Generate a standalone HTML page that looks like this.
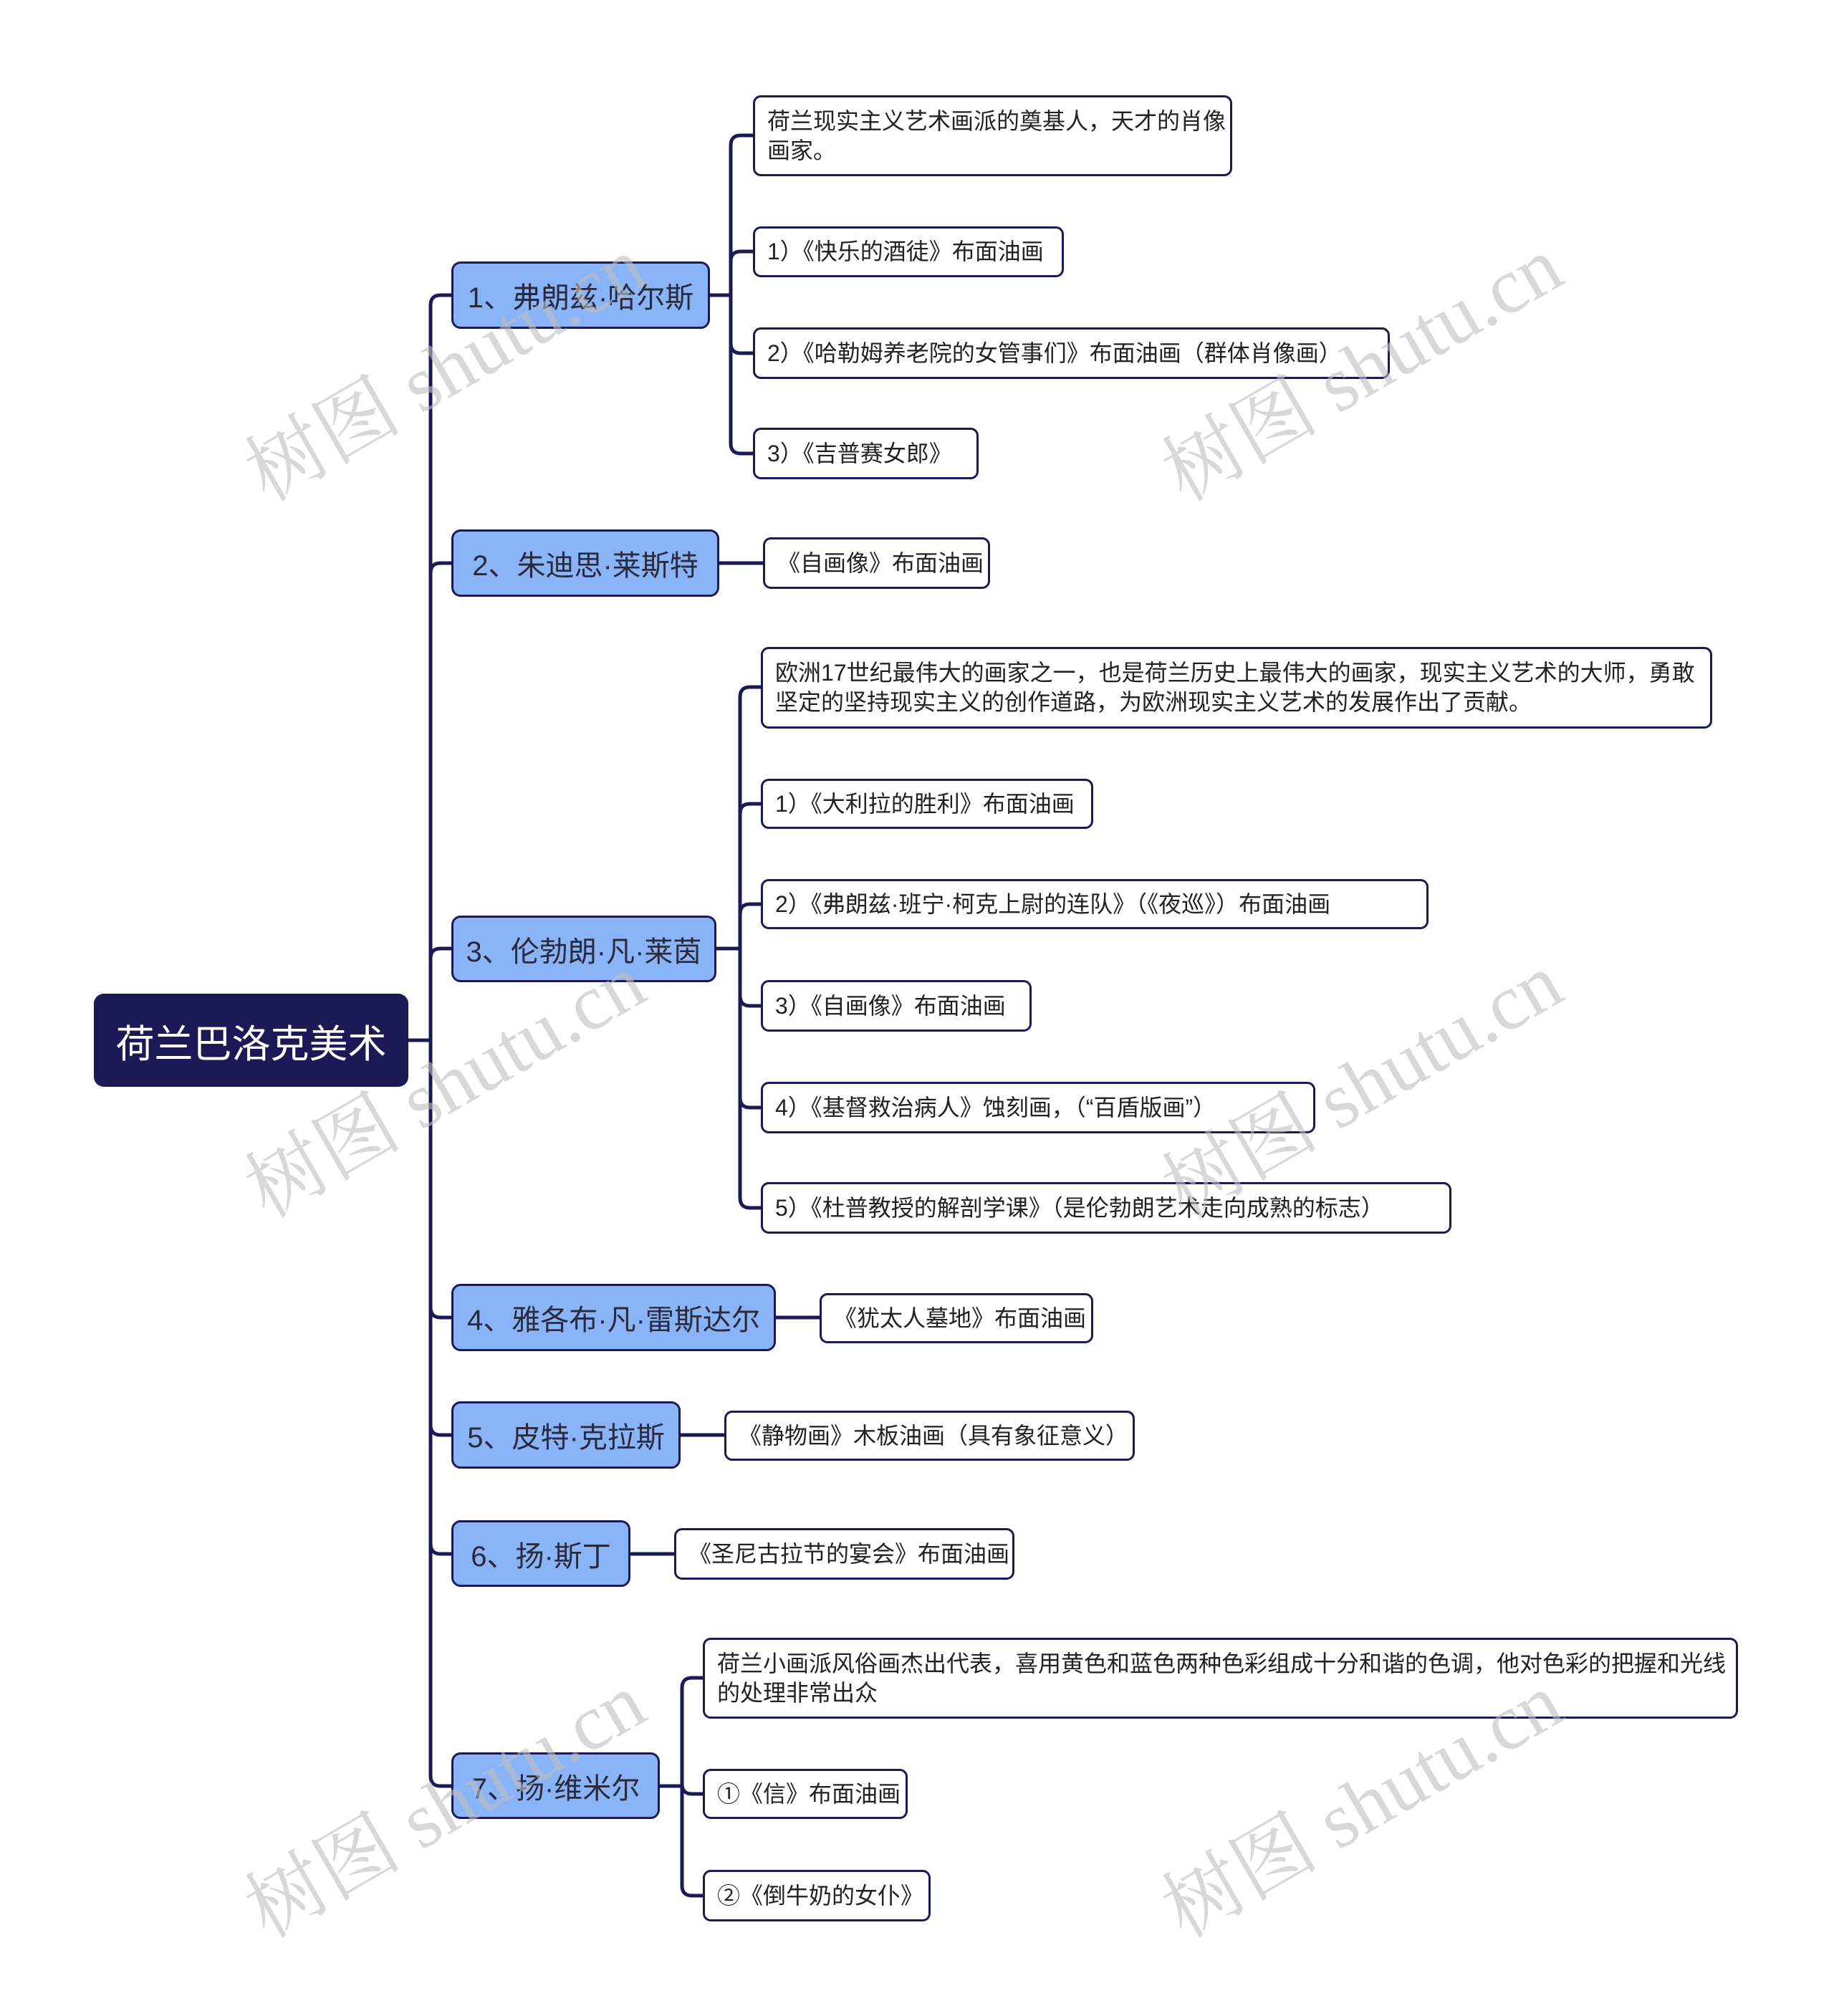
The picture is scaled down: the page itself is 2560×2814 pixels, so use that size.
<!DOCTYPE html>
<html><head><meta charset="utf-8"><style>
body{margin:0;width:2560px;height:2814px;background:#fff;position:relative;overflow:hidden;font-family:"Liberation Sans","Noto Sans CJK SC",sans-serif;}
#w{position:absolute;left:-4px;top:-4px;width:2560px;height:2814px;}
.n{position:absolute;box-sizing:border-box;display:flex;align-items:center;}
.root{background:#1c1a56;color:#fff;border-radius:14px;font-size:54px;justify-content:center;}
.l1{background:#8ab4f8;border:3px solid #1c1a56;border-radius:13px;color:#2a2a3a;font-size:40px;justify-content:center;}
.lf{background:#fff;border:3px solid #1c1a56;border-radius:11px;color:#222;font-size:32px;padding-left:17px;line-height:41px;white-space:nowrap;}
.wm{position:absolute;font-family:"Liberation Serif","Noto Serif CJK SC",serif;font-size:110px;color:rgba(190,190,190,0.6);transform:rotate(-30deg);white-space:nowrap;}
</style></head><body><div id="w">
<svg width="2560" height="2814" style="position:absolute;left:0;top:0" fill="none" stroke="#1c1a56" stroke-width="5">
<path d="M574 1456 H605 V430 Q605 416 619 416 H634"/>
<path d="M574 1456 H605 V804 Q605 790 619 790 H634"/>
<path d="M574 1456 H605 V1342 Q605 1328 619 1328 H634"/>
<path d="M574 1456 H605 V1829 Q605 1843 619 1843 H634"/>
<path d="M574 1456 H605 V1993 Q605 2007 619 2007 H634"/>
<path d="M574 1456 H605 V2159 Q605 2173 619 2173 H634"/>
<path d="M574 1456 H605 V2483 Q605 2497 619 2497 H634"/>
<path d="M995 416 H1024 V207 Q1024 193 1038 193 H1055"/>
<path d="M995 416 H1024 V369 Q1024 355 1038 355 H1055"/>
<path d="M995 416 H1024 V483 Q1024 497 1038 497 H1055"/>
<path d="M995 416 H1024 V623 Q1024 637 1038 637 H1055"/>
<path d="M1008 790 H1069"/>
<path d="M1004 1328 H1037 V977 Q1037 963 1051 963 H1066"/>
<path d="M1004 1328 H1037 V1140 Q1037 1126 1051 1126 H1066"/>
<path d="M1004 1328 H1037 V1280 Q1037 1266 1051 1266 H1066"/>
<path d="M1004 1328 H1037 V1394 Q1037 1408 1051 1408 H1066"/>
<path d="M1004 1328 H1037 V1536 Q1037 1550 1051 1550 H1066"/>
<path d="M1004 1328 H1037 V1676 Q1037 1690 1051 1690 H1066"/>
<path d="M1087 1843 H1148"/>
<path d="M954 2007 H1015"/>
<path d="M884 2173 H945"/>
<path d="M925 2497 H956 V2360 Q956 2346 970 2346 H985"/>
<path d="M925 2497 H956 V2494 Q956 2508 970 2508 H985"/>
<path d="M925 2497 H956 V2636 Q956 2650 970 2650 H985"/>
</svg>
<div class="n root" style="left:135px;top:1391px;width:439px;height:130px">荷兰巴洛克美术</div>
<div class="n l1" style="left:634px;top:369px;width:361px;height:94px">1、弗朗兹·哈尔斯</div>
<div class="n l1" style="left:634px;top:743px;width:374px;height:94px">2、朱迪思·莱斯特</div>
<div class="n l1" style="left:634px;top:1282px;width:370px;height:93px">3、伦勃朗·凡·莱茵</div>
<div class="n l1" style="left:634px;top:1796px;width:453px;height:94px">4、雅各布·凡·雷斯达尔</div>
<div class="n l1" style="left:634px;top:1960px;width:320px;height:94px">5、皮特·克拉斯</div>
<div class="n l1" style="left:634px;top:2126px;width:250px;height:93px">6、扬·斯丁</div>
<div class="n l1" style="left:634px;top:2450px;width:291px;height:93px">7、扬·维米尔</div>

<div class="n lf" style="left:1055px;top:137px;width:669px;height:113px">荷兰现实主义艺术画派的奠基人，天才的肖像<br>画家。</div>
<div class="n lf" style="left:1055px;top:320px;width:434px;height:71px">1）《快乐的酒徒》布面油画</div>
<div class="n lf" style="left:1055px;top:461px;width:889px;height:72px">2）《哈勒姆养老院的女管事们》布面油画（群体肖像画）</div>
<div class="n lf" style="left:1055px;top:601px;width:315px;height:72px">3）《吉普赛女郎》</div>
<div class="n lf" style="left:1069px;top:754px;width:317px;height:72px">《自画像》布面油画</div>
<div class="n lf" style="left:1066px;top:907px;width:1328px;height:114px">欧洲17世纪最伟大的画家之一，也是荷兰历史上最伟大的画家，现实主义艺术的大师，勇敢<br>坚定的坚持现实主义的创作道路，为欧洲现实主义艺术的发展作出了贡献。</div>
<div class="n lf" style="left:1066px;top:1091px;width:464px;height:70px">1）《大利拉的胜利》布面油画</div>
<div class="n lf" style="left:1066px;top:1231px;width:932px;height:70px">2）《弗朗兹·班宁·柯克上尉的连队》（《夜巡》）布面油画</div>
<div class="n lf" style="left:1066px;top:1372px;width:378px;height:72px">3）《自画像》布面油画</div>
<div class="n lf" style="left:1066px;top:1514px;width:774px;height:72px">4）《基督救治病人》蚀刻画，（“百盾版画”）</div>
<div class="n lf" style="left:1066px;top:1654px;width:964px;height:72px">5）《杜普教授的解剖学课》（是伦勃朗艺术走向成熟的标志）</div>
<div class="n lf" style="left:1148px;top:1809px;width:382px;height:70px">《犹太人墓地》布面油画</div>
<div class="n lf" style="left:1015px;top:1973px;width:573px;height:70px">《静物画》木板油画（具有象征意义）</div>
<div class="n lf" style="left:945px;top:2137px;width:475px;height:72px">《圣尼古拉节的宴会》布面油画</div>
<div class="n lf" style="left:985px;top:2290px;width:1445px;height:113px">荷兰小画派风俗画杰出代表，喜用黄色和蓝色两种色彩组成十分和谐的色调，他对色彩的把握和光线<br>的处理非常出众</div>
<div class="n lf" style="left:985px;top:2473px;width:286px;height:70px">①《信》布面油画</div>
<div class="n lf" style="left:985px;top:2614px;width:318px;height:72px">②《倒牛奶的女仆》</div>

<div class="wm" style="left:312px;top:432px">树图 shutu.cn</div>
<div class="wm" style="left:1592px;top:432px">树图 shutu.cn</div>
<div class="wm" style="left:312px;top:1432px">树图 shutu.cn</div>
<div class="wm" style="left:1592px;top:1432px">树图 shutu.cn</div>
<div class="wm" style="left:312px;top:2437px">树图 shutu.cn</div>
<div class="wm" style="left:1592px;top:2437px">树图 shutu.cn</div>
</div></body></html>
